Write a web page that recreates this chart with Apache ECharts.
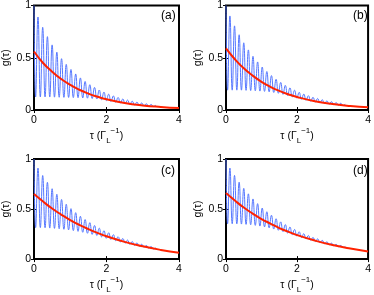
<!DOCTYPE html>
<html>
<head>
<meta charset="utf-8">
<script src="https://cdn.jsdelivr.net/npm/echarts@6/dist/echarts.min.js"></script>
<style>html,body{margin:0;padding:0;background:#fff}#c{width:374px;height:295px}</style>
</head>
<body>
<div id="c"></div>
<script>
// ---- data ----
const blueTau = [0, 0.045, 0.11, 0.175, 0.24, 0.305, 0.37, 0.435, 0.5, 0.565, 0.63, 0.695, 0.76, 0.825, 0.89, 0.955, 1.02, 1.085, 1.15, 1.215, 1.28, 1.345, 1.41, 1.475, 1.54, 1.605, 1.67, 1.735, 1.8, 1.865, 1.93, 1.995, 2.06, 2.125, 2.19, 2.255, 2.32, 2.385, 2.45, 2.515, 2.58, 2.645, 2.71, 2.775, 2.84, 2.905, 2.97, 3.035, 3.1, 3.165, 3.23, 3.295, 3.36];
const blueA = [1.0, 0.125, 0.89, 0.125, 0.791, 0.125, 0.702, 0.124, 0.623, 0.123, 0.554, 0.122, 0.491, 0.121, 0.437, 0.12, 0.388, 0.119, 0.345, 0.118, 0.307, 0.116, 0.273, 0.113, 0.242, 0.11, 0.216, 0.105, 0.191, 0.098, 0.171, 0.09, 0.151, 0.082, 0.135, 0.074, 0.12, 0.067, 0.106, 0.06, 0.095, 0.054, 0.084, 0.049, 0.075, 0.044, 0.067, 0.04, 0.059, 0.036, 0.053, 0.033, 0.047];
const blueB = [1.0, 0.19, 0.90, 0.19, 0.805, 0.19, 0.72, 0.19, 0.643, 0.188, 0.575, 0.186, 0.514, 0.184, 0.46, 0.181, 0.411, 0.178, 0.368, 0.174, 0.329, 0.168, 0.294, 0.16, 0.264, 0.15, 0.236, 0.138, 0.212, 0.126, 0.189, 0.114, 0.169, 0.103, 0.152, 0.093, 0.137, 0.084, 0.122, 0.076, 0.11, 0.069, 0.098, 0.062, 0.087, 0.056, 0.079, 0.051, 0.071, 0.046, 0.064, 0.042, 0.057];
const blueC = [1.0, 0.315, 0.91, 0.315, 0.835, 0.313, 0.767, 0.31, 0.703, 0.307, 0.648, 0.303, 0.596, 0.298, 0.548, 0.292, 0.504, 0.285, 0.464, 0.277, 0.428, 0.268, 0.395, 0.258, 0.364, 0.247, 0.336, 0.235, 0.309, 0.222, 0.284, 0.208, 0.263, 0.196, 0.244, 0.184, 0.224, 0.171, 0.206, 0.159, 0.19, 0.148, 0.175, 0.138, 0.161, 0.128, 0.148, 0.119, 0.136, 0.11, 0.125, 0.101, 0.113];
const blueD = [1.0, 0.353, 0.91, 0.353, 0.836, 0.352, 0.769, 0.35, 0.707, 0.347, 0.652, 0.343, 0.601, 0.337, 0.554, 0.33, 0.51, 0.322, 0.473, 0.312, 0.438, 0.30, 0.403, 0.288, 0.372, 0.274, 0.345, 0.26, 0.32, 0.245, 0.296, 0.23, 0.273, 0.215, 0.254, 0.201, 0.236, 0.188, 0.217, 0.176, 0.202, 0.165, 0.187, 0.154, 0.173, 0.143, 0.159, 0.133, 0.147, 0.124, 0.136, 0.115, 0.126];
const redTau = [0, 0.25, 0.5, 0.75, 1, 1.25, 1.5, 1.75, 2, 2.5, 3, 3.5, 4];
const redA = [0.56, 0.45, 0.367, 0.296, 0.24, 0.194, 0.157, 0.127, 0.102, 0.067, 0.044, 0.029, 0.018];
const redB = [0.59, 0.486, 0.399, 0.329, 0.27, 0.222, 0.183, 0.151, 0.124, 0.084, 0.057, 0.038, 0.026];
const redC = [0.65, 0.575, 0.505, 0.445, 0.39, 0.342, 0.30, 0.262, 0.228, 0.172, 0.128, 0.092, 0.063];
const redD = [0.66, 0.585, 0.515, 0.455, 0.40, 0.355, 0.31, 0.275, 0.24, 0.185, 0.14, 0.105, 0.077];
const panelLabels = ['(a)', '(b)', '(c)', '(d)'];
const xTickLabels = ['0', '2', '4'];
const yTickLabels = ['0', '0.5', '1'];
const xTitle = 'τ (Γ';
const yTitle = 'g(τ)';

// ---- chart ----
const blues = [blueA, blueB, blueC, blueD];
const reds = [redA, redB, redC, redD];
const grids = [
  {left: 34, top: 4, width: 145, height: 106},
  {left: 226, top: 4, width: 145, height: 106},
  {left: 34, top: 159, width: 145, height: 107},
  {left: 226, top: 159, width: 145, height: 107}
];
const font = 'Liberation Sans, Arial, Helvetica, sans-serif';
const option = {
  animation: false,
  backgroundColor: '#fff',
  grid: grids.map(g => Object.assign({show: true, borderColor: '#000', borderWidth: 2, backgroundColor: 'transparent'}, g)),
  title: grids.map((g, i) => ({
    text: panelLabels[i],
    left: g.left + g.width - 18,
    top: g.top + 6,
    padding: 0,
    textStyle: {fontSize: 12, fontWeight: 'normal', color: '#000', fontFamily: font}
  })),
  xAxis: [],
  yAxis: [],
  series: []
};
grids.forEach((g, i) => {
  option.xAxis.push({
    type: 'value', gridIndex: i, min: 0, max: 4, interval: 2, position: 'bottom',
    axisLine: {show: false}, splitLine: {show: false},
    axisTick: {show: true, inside: true, length: 3, lineStyle: {color: '#000', width: 1}},
    axisLabel: {fontSize: 10.5, color: '#000', fontFamily: font, margin: 5,
      formatter: v => xTickLabels[Math.round(v / 2)]},
    name: '{t|' + xTitle + '}{sub|L}{sup|−1}{t|)}',
    nameLocation: 'middle', nameGap: 15,
    nameTextStyle: {fontFamily: font, color: '#000',
      rich: {
        t: {fontSize: 10.5, fontFamily: font, color: '#000', lineHeight: 18, verticalAlign: 'middle'},
        sup: {fontSize: 8, fontFamily: font, color: '#000', verticalAlign: 'top', lineHeight: 18, padding: [0, 0, 6, 0]},
        sub: {fontSize: 8, fontFamily: font, color: '#000', verticalAlign: 'bottom', lineHeight: 18, padding: [6, 0, 0, 0]}
      }}
  });
  option.xAxis.push({
    type: 'value', gridIndex: i, min: 0, max: 4, interval: 2, position: 'top',
    axisLine: {show: false}, splitLine: {show: false}, axisLabel: {show: false},
    axisTick: {show: true, inside: true, length: 3, lineStyle: {color: '#000', width: 1}}
  });
  option.yAxis.push({
    type: 'value', gridIndex: i, min: 0, max: 1, interval: 0.5, position: 'left',
    axisLine: {show: false}, splitLine: {show: false},
    axisTick: {show: true, inside: true, length: 3, lineStyle: {color: '#000', width: 1}},
    axisLabel: {fontSize: 10.5, color: '#000', fontFamily: font, margin: 3,
      formatter: v => yTickLabels[Math.round(v * 2)]},
    name: yTitle, nameLocation: 'middle', nameGap: 22, nameRotate: 90,
    nameTextStyle: {fontSize: 10.5, color: '#000', fontFamily: font}
  });
  option.yAxis.push({
    type: 'value', gridIndex: i, min: 0, max: 1, interval: 0.5, position: 'right',
    axisLine: {show: false}, splitLine: {show: false}, axisLabel: {show: false},
    axisTick: {show: true, inside: true, length: 3, lineStyle: {color: '#000', width: 1}}
  });
  option.series.push({
    type: 'line', xAxisIndex: 2 * i, yAxisIndex: 2 * i, showSymbol: false, smooth: 0.5,
    data: blueTau.map((t, k) => [t, blues[i][k]]),
    lineStyle: {color: '#5577ff', width: 1}, z: 2
  });
  option.series.push({
    type: 'line', xAxisIndex: 2 * i, yAxisIndex: 2 * i, showSymbol: false, smooth: true,
    data: redTau.map((t, k) => [t, reds[i][k]]),
    lineStyle: {color: '#ff2200', width: 2}, z: 3
  });
});
const chart = echarts.init(document.getElementById('c'), null, {renderer: 'canvas'});
chart.setOption(option);
</script>
</body>
</html>
